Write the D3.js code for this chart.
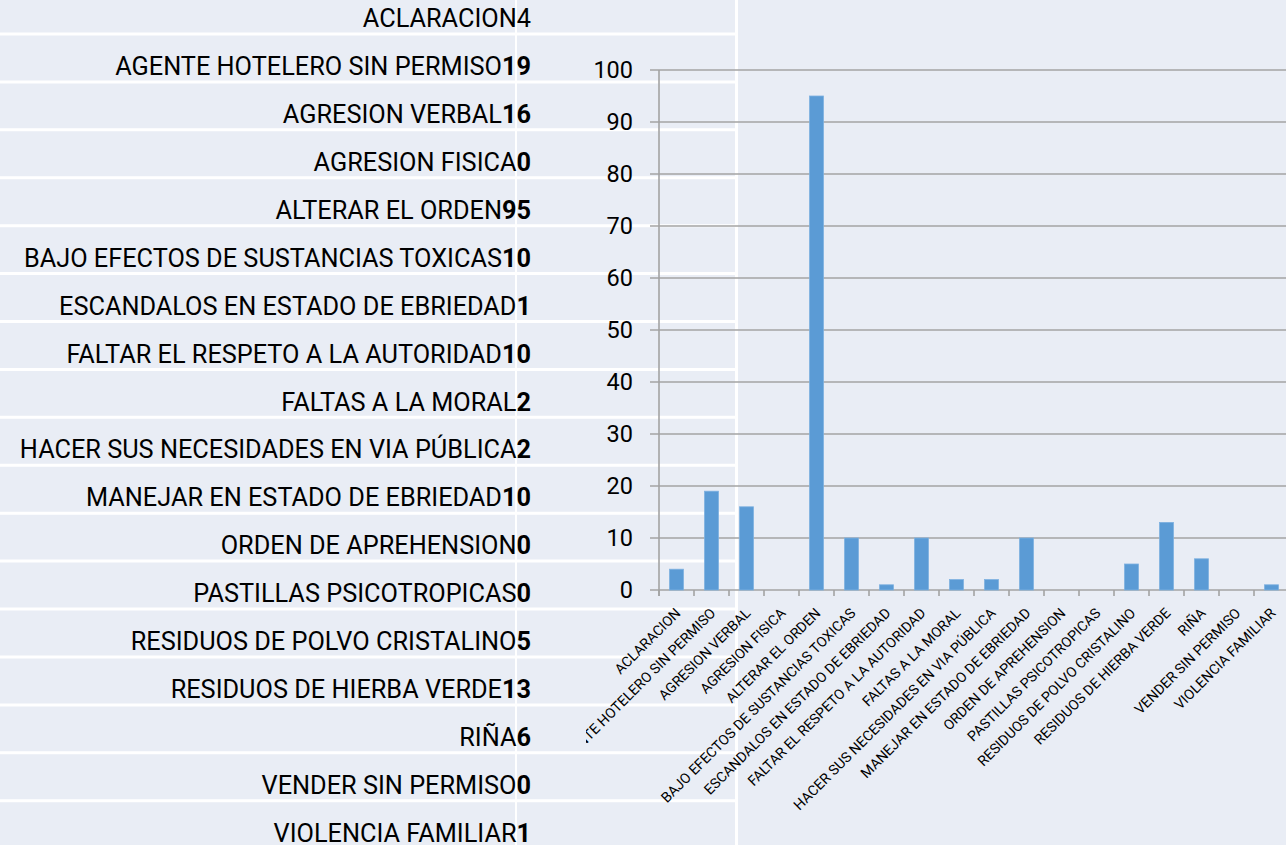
<!DOCTYPE html>
<html><head><meta charset="utf-8">
<script src="https://cdn.jsdelivr.net/npm/d3@7"></script>
<style>html,body{margin:0;padding:0;background:#e9edf5;overflow:hidden}</style>
</head><body>
<script>
const categories = ["ACLARACION","AGENTE HOTELERO SIN PERMISO","AGRESION VERBAL","AGRESION FISICA","ALTERAR EL ORDEN","BAJO EFECTOS DE SUSTANCIAS TOXICAS","ESCANDALOS EN ESTADO DE EBRIEDAD","FALTAR EL RESPETO A LA AUTORIDAD","FALTAS A LA MORAL","HACER SUS NECESIDADES EN VIA PÚBLICA","MANEJAR EN ESTADO DE EBRIEDAD","ORDEN DE APREHENSION","PASTILLAS PSICOTROPICAS","RESIDUOS DE POLVO CRISTALINO","RESIDUOS DE HIERBA VERDE","RIÑA","VENDER SIN PERMISO","VIOLENCIA FAMILIAR"];
const values = [4,19,16,0,95,10,1,10,2,2,10,0,0,5,13,6,0,1];
const numberBold = [false,true,true,true,true,true,true,true,true,true,true,true,true,true,true,true,true,true];
const yTicks = [0,10,20,30,40,50,60,70,80,90,100];

const W = 1286, H = 845;
const FONT = "Roboto, 'Open Sans', sans-serif";
const svg = d3.select("body").append("svg").attr("width", W).attr("height", H);
svg.append("rect").attr("width", W).attr("height", H).attr("fill", "#e9edf5");

// ---- left table ----
const rowH = 47.92;
const row = d3.scaleBand().domain(categories).range([34 - rowH, 34 - rowH + rowH * categories.length]);
const table = svg.append("g");
table.selectAll("line.sep").data(categories.slice(0, -1)).join("line")
  .attr("x1", 0).attr("x2", 737)
  .attr("y1", d => row(d) + rowH).attr("y2", d => row(d) + rowH)
  .attr("stroke", "#ffffff").attr("stroke-width", 3);
table.append("line").attr("x1", 516).attr("x2", 516).attr("y1", 0).attr("y2", H)
  .attr("stroke", "#ffffff").attr("stroke-width", 2);
table.append("line").attr("x1", 736.5).attr("x2", 736.5).attr("y1", 0).attr("y2", H)
  .attr("stroke", "#ffffff").attr("stroke-width", 3);
const rowText = table.selectAll("text.row").data(categories).join("text")
  .attr("x", 531).attr("y", d => row(d) + rowH - 6.8)
  .attr("text-anchor", "end").attr("font-family", FONT).attr("font-size", 25.3).attr("fill", "#000");
rowText.append("tspan").text(d => d);
rowText.append("tspan").attr("font-weight", (d, i) => numberBold[i] ? "bold" : "normal").text((d, i) => values[i]);

// ---- chart ----
const x0 = 659, step = 35;
const x = d3.scaleBand().domain(categories).range([x0, x0 + step * categories.length]).paddingInner(0.6).paddingOuter(0.3);
const y = d3.scaleLinear().domain([0, 100]).range([590, 70]);

const grid = svg.append("g");
grid.selectAll("line").data(yTicks).join("line")
  .attr("x1", 650).attr("x2", W).attr("y1", d => y(d)).attr("y2", d => y(d))
  .attr("stroke", "#a3a3a3").attr("stroke-width", 1.6);
grid.selectAll("text").data(yTicks).join("text")
  .attr("x", 633).attr("y", d => y(d)).attr("dy", "0.36em")
  .attr("text-anchor", "end").attr("font-family", FONT).attr("font-size", 23.5).attr("fill", "#000")
  .text(d => d);

// y axis line
svg.append("line").attr("x1", x0).attr("x2", x0).attr("y1", y(100)).attr("y2", y(0) + 6)
  .attr("stroke", "#a3a3a3").attr("stroke-width", 1.6);
// x ticks at band boundaries
const gap = (x.step() - x.bandwidth()) / 2;
const bounds = categories.map(d => x(d) - gap).concat([x(categories[categories.length - 1]) + x.bandwidth() + gap]);
svg.selectAll("line.xt").data(bounds).join("line")
  .attr("x1", d => d).attr("x2", d => d).attr("y1", y(0)).attr("y2", y(0) + 6)
  .attr("stroke", "#a3a3a3").attr("stroke-width", 1.6);

// bars
svg.append("g").selectAll("rect").data(categories).join("rect")
  .attr("x", d => x(d)).attr("width", x.bandwidth())
  .attr("y", (d, i) => y(values[i])).attr("height", (d, i) => y(0) - y(values[i]))
  .attr("fill", "#5b9bd5").attr("stroke", "#7eb1e0").attr("stroke-width", 0.8);

// x labels
svg.append("clipPath").attr("id", "lblclip").append("rect").attr("x", 586).attr("y", 595).attr("width", W).attr("height", H);
svg.append("g").attr("clip-path", "url(#lblclip)")
  .selectAll("text").data(categories).join("text")
  .attr("transform", d => `translate(${x(d) + x.bandwidth() / 2 + 5},614) rotate(-45)`)
  .attr("text-anchor", "end").attr("font-family", FONT).attr("font-size", 14.2).attr("fill", "#000")
  .text(d => d);
</script>
</body></html>
